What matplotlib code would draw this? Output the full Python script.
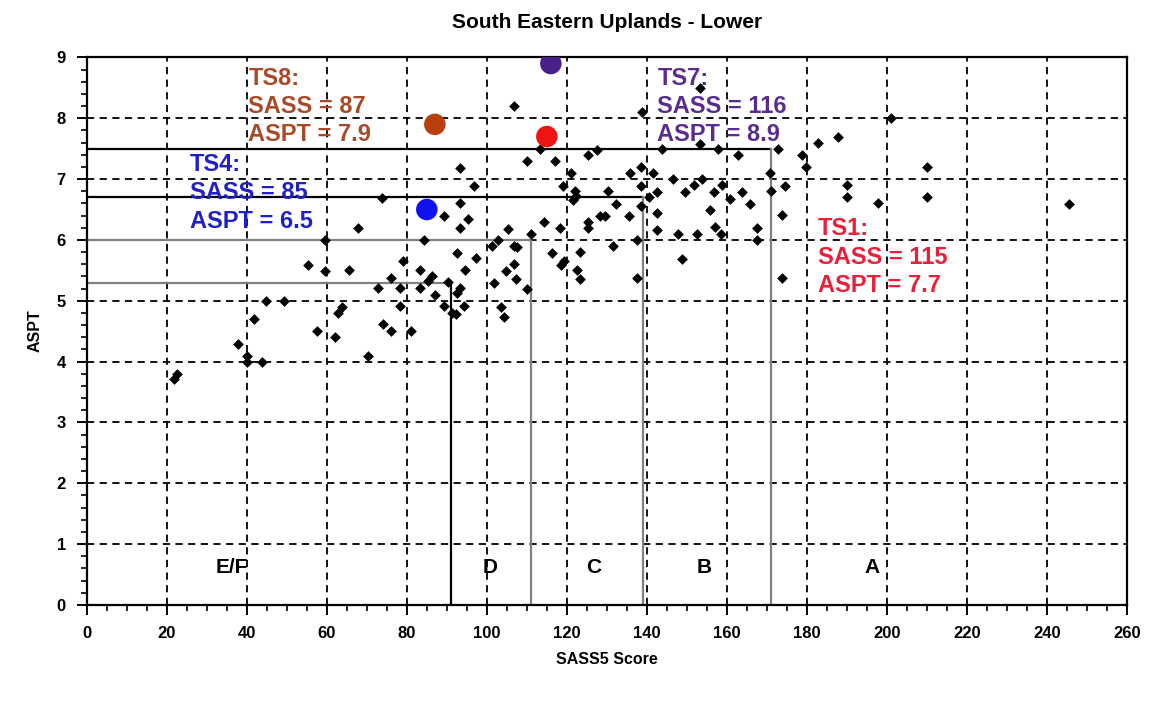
import matplotlib
matplotlib.use("Agg")
import matplotlib.pyplot as plt
from matplotlib.ticker import MultipleLocator

plt.rcParams['font.family'] = ['Liberation Sans', 'DejaVu Sans']
plt.rcParams['font.weight'] = 'bold'

# site scores (SASS5 score, ASPT)
sass = [21.7, 22.6, 37.9, 40, 40, 43.8, 41.8, 44.9, 49.3,
        57.5, 62.1, 62.7, 63.7, 55.4, 59.5, 59.6, 65.6, 67.9, 73.9,
        70.2, 74.1, 76.0, 81.1, 79.1, 76.0, 72.9, 78.2, 78.2,
        83.2, 85.4, 86.2, 83.2, 87.1, 84.2,
        90.2, 93.2, 92.5, 89.2, 91.4, 92.4, 94.3,
        93.4, 96.7, 93.2, 89.4, 95.2, 93.3, 92.5, 97.3, 94.5,
        101.2, 102.7, 101.7, 103.5, 104.3, 104.8, 106.9, 107.4, 110,
        106.7, 107.5, 105.4, 111, 106.8, 113.2, 110, 117.1, 125.4, 127.5,
        121.1, 119.1, 122.1, 122.3, 121.6, 114.3, 118.3, 116.4, 123.3,
        118.6, 119.4, 122.5, 123.4, 125.4, 125.2, 128.3, 129.6, 131.5, 137.5, 137.5,
        130.4, 132.3, 135.6, 135.7, 138.6, 138.6, 138.6, 138.7,
        140.5, 141.6, 142.6, 142.5, 142.5, 143.7, 146.6, 149.6, 151.7, 153.7,
        156.7, 158.8, 160.7, 163.7, 165.8, 155.7, 147.7, 152.6, 157.1, 158.6, 148.7,
        153.3, 153.3, 157.7, 162.7, 172.9, 170.9, 174.6, 171, 173.7, 173.7,
        167.6, 167.6, 178.8, 179.9, 182.9, 187.9, 201, 190, 190, 197.9, 210, 210, 245.4]
aspt = [3.72, 3.79, 4.29, 4.10, 4.0, 4.0, 4.70, 5.0, 5.0,
        4.5, 4.40, 4.80, 4.89, 5.59, 5.49, 6.0, 5.50, 6.19, 6.69,
        4.10, 4.61, 4.50, 4.50, 5.65, 5.38, 5.21, 5.21, 4.91,
        5.50, 5.33, 5.41, 5.21, 5.10, 6.0,
        5.31, 5.21, 5.12, 4.92, 4.80, 4.78, 4.91,
        7.19, 6.89, 6.60, 6.40, 6.34, 6.19, 5.79, 5.71, 5.50,
        5.90, 6.0, 5.29, 4.90, 4.73, 5.49, 5.60, 5.35, 5.20,
        5.90, 5.89, 6.18, 6.10, 8.21, 7.49, 7.30, 7.30, 7.40, 7.48,
        7.10, 6.89, 6.80, 6.72, 6.66, 6.29, 6.20, 5.79, 5.80,
        5.59, 5.65, 5.50, 5.36, 6.30, 6.20, 6.40, 6.40, 5.90, 6.0, 5.38,
        6.81, 6.59, 6.40, 7.10, 7.20, 6.89, 6.56, 8.10,
        6.70, 7.10, 6.79, 6.44, 6.17, 7.49, 7.0, 6.78, 6.90, 7.0,
        6.78, 6.90, 6.67, 6.78, 6.59, 6.50, 6.10, 6.10, 6.21, 6.09, 5.69,
        8.50, 7.57, 7.49, 7.40, 7.50, 7.10, 6.89, 6.80, 6.41, 5.38,
        6.20, 6.0, 7.39, 7.20, 7.59, 7.69, 8.0, 6.90, 6.70, 6.60, 7.20, 6.70, 6.59]

# highlighted sites
ts_names = ['TS8', 'TS4', 'TS7', 'TS1']
ts_sass = [87, 85, 116, 115]
ts_aspt = [7.9, 6.5, 8.9, 7.7]
ts_dot_colors = ['#b8400f', '#1010f0', '#4a1f8a', '#f01414']
ts_text_colors = ['#a84a28', '#2020c8', '#5a2c90', '#e8203a']
ts_text_pos = [(40.4, 8.85), (25.8, 7.43), (142.6, 8.85), (182.8, 6.37)]

# class boundaries (SASS5 score, ASPT) and class labels
bound_sass = [91, 111, 139, 171]
bound_aspt = [5.3, 6.0, 6.7, 7.5]
h_colors = ['#808080', '#808080', '#000000', '#000000']
v_colors = ['#000000', '#808080', '#808080', '#808080']
class_names = ['E/F', 'D', 'C', 'B', 'A']
class_x = [36.3, 100.8, 126.8, 154.4, 196.3]

fig = plt.figure(figsize=(11.57, 7.05), dpi=100)
ax = fig.add_axes([0.075, 0.142, 0.899, 0.7765])

ax.set_xlim(0, 260)
ax.set_ylim(0, 9)
ax.xaxis.set_major_locator(MultipleLocator(20))
ax.xaxis.set_minor_locator(MultipleLocator(5))
ax.yaxis.set_major_locator(MultipleLocator(1))
ax.yaxis.set_minor_locator(MultipleLocator(0.2))
ax.grid(True, which='major', color='black', linestyle=(0, (4, 3)), linewidth=1.3)
ax.set_axisbelow(True)
ax.tick_params(which='major', direction='out', length=7, width=1.4, labelsize=12, pad=8)
ax.tick_params(which='minor', direction='out', length=4, width=1.2)
for lab in ax.get_xticklabels() + ax.get_yticklabels():
    lab.set_fontweight('bold')
for sp in ax.spines.values():
    sp.set_linewidth(1.6)

for xb, yb, hc, vc in zip(bound_sass, bound_aspt, h_colors, v_colors):
    ax.plot([0, xb], [yb, yb], color=hc, lw=1.6, zorder=2)
    ax.plot([xb, xb], [0, yb], color=vc, lw=1.6, zorder=2)

ax.scatter(sass, aspt, marker='D', s=30, color='black', zorder=3, linewidths=0)
ax.scatter(ts_sass, ts_aspt, marker='o', s=240, c=ts_dot_colors, zorder=4, linewidths=0)

for name, s, a, col, (tx, ty) in zip(ts_names, ts_sass, ts_aspt, ts_text_colors, ts_text_pos):
    ax.text(tx, ty, f'{name}:\nSASS = {s}\nASPT = {a}', color=col, fontsize=17,
            fontweight='bold', va='top', ha='left', linespacing=1.3, zorder=5)

for name, cx in zip(class_names, class_x):
    ax.text(cx, 0.62, name, fontsize=15, fontweight='bold', ha='center', va='center', zorder=5)

ax.set_title('South Eastern Uplands - Lower', fontsize=15, fontweight='bold', pad=21)
ax.set_xlabel('SASS5 Score', fontsize=11.5, fontweight='bold', labelpad=8)
ax.set_ylabel('ASPT', fontsize=11.5, fontweight='bold', labelpad=10)

fig.savefig('out.png', dpi=100, facecolor='white')
